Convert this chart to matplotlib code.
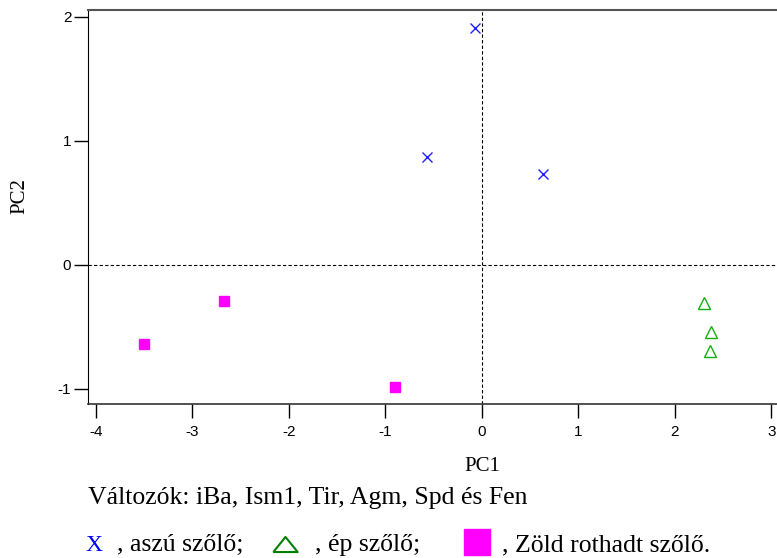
import matplotlib.pyplot as plt
from matplotlib.lines import Line2D

plt.rcParams["axes.unicode_minus"] = False

# PCA scores
aszu_pc1 = [-0.07, -0.57, 0.63]
aszu_pc2 = [1.91, 0.87, 0.73]
ep_pc1 = [2.30, 2.38, 2.37]
ep_pc2 = [-0.31, -0.54, -0.69]
zold_pc1 = [-3.50, -2.67, -0.90]
zold_pc2 = [-0.64, -0.29, -0.98]

xticks = [-4, -3, -2, -1, 0, 1, 2, 3]
yticks = [-1, 0, 1, 2]

serif = "Liberation Serif"
sans = "Liberation Sans"

W, H = 777, 558
fig = plt.figure(figsize=(W / 100, H / 100), dpi=100)
ax = fig.add_axes([88 / W, 1 - 404 / H, 1 - 88 / W, 394 / H])

ax.axhline(0, color="black", lw=0.8, ls=(0, (3, 2)), zorder=1)
ax.axvline(0, color="black", lw=0.8, ls=(0, (3, 2)), zorder=1)

ax.plot(aszu_pc1, aszu_pc2, ls="none", marker="x", ms=7, mew=1.0, color="#2020ff")
ax.plot(ep_pc1, ep_pc2, ls="none", marker="^", ms=8, mew=1.0, mfc="none", mec="#10b010")
ax.plot(zold_pc1, zold_pc2, ls="none", marker="s", ms=6.5, color="#ff00ff")

ax.set_xlim(-4.08, 3.06)
ax.set_ylim(-1.121, 2.056)
ax.set_xticks(xticks)
ax.set_yticks(yticks)
ax.tick_params(direction="out", length=10, width=1, labelsize=11)
ax.tick_params(axis="x", pad=5)
ax.tick_params(axis="y", pad=2)
for lbl in ax.get_xticklabels() + ax.get_yticklabels():
    lbl.set_fontfamily(sans)
ax.spines["right"].set_visible(False)
ax.spines["top"].set_color("#555555")
ax.spines["top"].set_linewidth(1.5)
ax.spines["bottom"].set_color("#333333")
ax.spines["bottom"].set_linewidth(1.2)

ax.set_xlabel("PC1", fontfamily=serif, fontsize=15, va="baseline")
ax.xaxis.set_label_coords((482 - 88) / (W - 88), (404 - 471) / 394)
ax.set_ylabel("PC2", fontfamily=serif, fontsize=15, va="center")
ax.yaxis.set_label_coords((20 - 88) / (W - 88), (404 - 196.5) / 394)

fs = 18.5
fig.text(88 / W, 1 - 504 / H, "Változók: iBa, Ism1, Tir, Agm, Spd és Fen",
         fontfamily=serif, fontsize=fs, va="baseline", ha="left")

base = 1 - 551 / H
fig.text(85 / W, base, "X", color="#0000ff", fontfamily=serif, fontsize=17, va="baseline")
fig.text(117 / W, base, ", aszú szőlő;", fontfamily=serif, fontsize=fs, va="baseline")
tri = [(-1, -0.62), (1, -0.62), (0, 0.62), (-1, -0.62)]
fig.add_artist(Line2D([285 / W], [1 - 543.5 / H], marker=tri, ms=17.5, mfc="none",
                      mec="#008000", mew=1.5, transform=fig.transFigure))
fig.text(315 / W, base, ", ép szőlő;", fontfamily=serif, fontsize=fs, va="baseline")
fig.add_artist(Line2D([477 / W], [1 - 541.5 / H], marker="s", ms=18.5, color="#ff00ff",
                      transform=fig.transFigure))
fig.text(502 / W, base, ", Zöld rothadt szőlő.", fontfamily=serif, fontsize=fs, va="baseline")

plt.savefig("out.png")
